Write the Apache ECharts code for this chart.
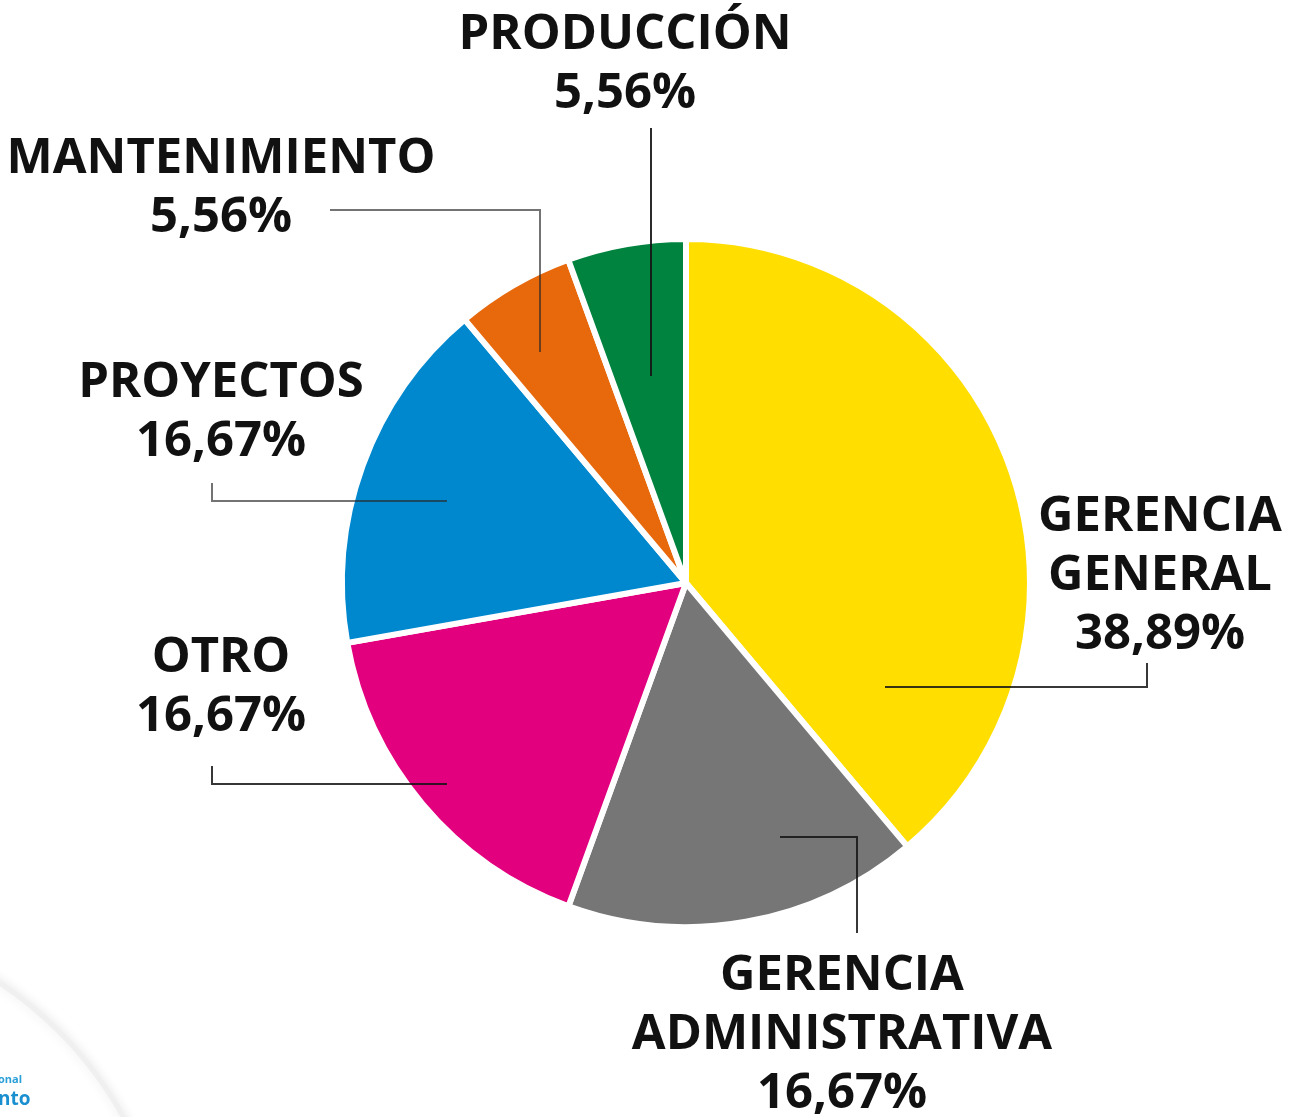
<!DOCTYPE html>
<html>
<head>
<meta charset="utf-8">
<script src="https://cdn.jsdelivr.net/npm/echarts@6/dist/echarts.min.js"></script>
<style>
html,body{margin:0;padding:0;background:#fff;}
#chart{width:1290px;height:1117px;}
</style>
</head>
<body>
<div id="chart"></div>
<script>
// ---- data ----
var categories = ['GERENCIA\nGENERAL', 'GERENCIA\nADMINISTRATIVA', 'OTRO', 'PROYECTOS', 'MANTENIMIENTO', 'PRODUCCIÓN'];
var percentages = [38.89, 16.67, 16.67, 16.67, 5.56, 5.56];

// ---- styles ----
var colors = ['#FFDE00', '#767676', '#E3007E', '#0088CF', '#E8680C', '#00833F'];
var CX = 686, CY = 583;
// label centre offsets from pie centre
var labelPos = [[474, -7], [156, 452], [-465, 105], [-465, -170], [-465, -394], [-61, -518]];
// leader line points, offsets from pie centre
var linePts = [
  [[199, 104], [461, 104], [461, 80]],
  [[94, 254], [171, 254], [171, 350]],
  [[-239, 201], [-474, 201], [-474, 183]],
  [[-239, -82], [-474, -82], [-474, -100]],
  [[-146, -231], [-146, -373], [-356, -373]],
  [[-35, -207], [-35, -330], [-35, -455]]
];
var lineColors = ['rgba(20,20,20,0.85)', 'rgba(20,20,20,0.85)', 'rgba(20,20,20,0.85)', 'rgba(40,40,40,0.65)', 'rgba(40,40,40,0.65)', 'rgba(20,20,20,0.9)'];

var pieData = categories.map(function (c, i) {
  return { name: c, value: percentages[i], itemStyle: { color: colors[i] } };
});
var labelData = categories.map(function (c, i) {
  return { name: c, value: percentages[i], labelLine: { lineStyle: { color: lineColors[i] } } };
});

var chart = echarts.init(document.getElementById('chart'), null, { renderer: 'canvas' });
chart.setOption({
  backgroundColor: '#ffffff',
  animation: false,
  graphic: [
    { type: 'circle', shape: { cx: -210, cy: 1300, r: 380 }, style: { fill: '#ffffff', stroke: '#f0f0f0', lineWidth: 5, shadowBlur: 12, shadowColor: 'rgba(0,0,0,0.08)' }, z: -1 },
    { type: 'text', left: -2, top: 1074, style: { text: 'onal', fill: '#2a9fd8', font: 'bold 11px "Open Sans"' }, z: -1 },
    { type: 'text', left: -2, top: 1090, style: { text: 'nto', fill: '#1a8fd0', font: 'bold 19px "Open Sans"' }, z: -1 }
  ],
  series: [{
    type: 'pie',
    z: 2,
    center: [CX, CY],
    radius: 344,
    startAngle: 90,
    clockwise: true,
    silent: true,
    itemStyle: { borderColor: '#ffffff', borderWidth: 6 },
    emphasis: { disabled: true },
    label: { show: false },
    labelLine: { show: false },
    data: pieData
  }, {
    type: 'pie',
    z: 5,
    center: [CX, CY],
    radius: 344,
    startAngle: 90,
    clockwise: true,
    silent: true,
    itemStyle: { color: 'rgba(0,0,0,0)', borderWidth: 0 },
    emphasis: { disabled: true },
    label: {
      show: true,
      position: 'outside',
      formatter: function (p) {
        return p.name + '\n' + p.value.toFixed(2).replace('.', ',') + '%';
      },
      fontFamily: 'Open Sans',
      fontWeight: 'bold',
      fontSize: 49,
      lineHeight: 59,
      color: '#111111',
      align: 'center',
      width: 700,
      overflow: 'none'
    },
    labelLine: { show: true, lineStyle: { width: 2 } },
    labelLayout: function (params) {
      var i = params.dataIndex;
      return {
        x: CX + labelPos[i][0],
        y: CY + labelPos[i][1],
        align: 'center',
        verticalAlign: 'middle',
        labelLinePoints: linePts[i].map(function (p) { return [CX + p[0], CY + p[1]]; })
      };
    },
    data: labelData
  }]
});
</script>
</body>
</html>
